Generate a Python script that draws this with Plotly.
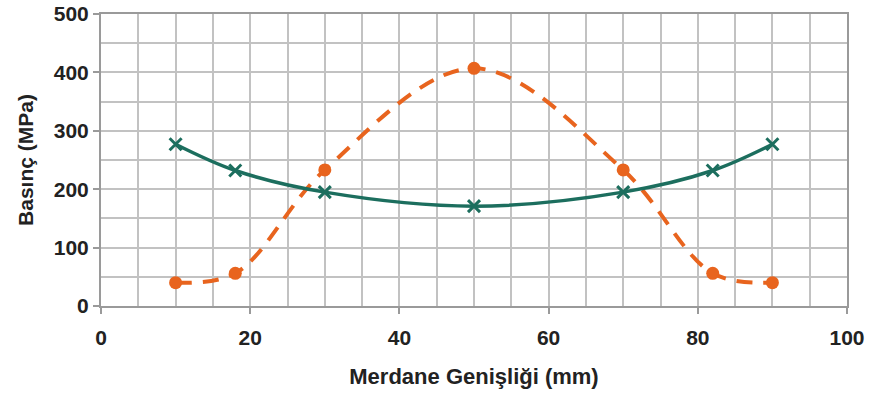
import plotly.graph_objects as go

x_green = [10, 18, 30, 50, 70, 82, 90]
y_green = [277, 232, 195, 171, 195, 232, 277]
x_orange = [10, 18, 30, 50, 70, 82, 90]
y_orange = [40, 56, 233, 407, 233, 56, 40]

x_ticks = [0, 20, 40, 60, 80, 100]
y_ticks = [0, 100, 200, 300, 400, 500]

teal = "#1C6E5E"
orange = "#E8641E"

fig = go.Figure()
fig.add_trace(go.Scatter(
    x=x_orange, y=y_orange, mode="lines+markers",
    line=dict(color=orange, width=4, dash="16px,11px", shape="spline", smoothing=1.0),
    marker=dict(symbol="circle", size=13, color=orange),
    showlegend=False))
fig.add_trace(go.Scatter(
    x=x_green, y=y_green, mode="lines+markers",
    line=dict(color=teal, width=3.5, shape="spline", smoothing=1.0),
    marker=dict(symbol="x-thin", size=12, line=dict(color=teal, width=3)),
    showlegend=False))

fig.update_layout(
    width=875, height=394,
    margin=dict(l=101, r=28, t=14, b=88, autoexpand=False),
    paper_bgcolor="white", plot_bgcolor="white",
    font=dict(family="Liberation Sans, Arial, sans-serif", color="#222222"),
)
fig.update_xaxes(
    range=[0, 100], tickvals=x_ticks, ticktext=[str(v) for v in x_ticks],
    tickfont=dict(size=21, family="Liberation Sans, Arial", weight="bold"),
    showgrid=True, gridcolor="#C2C2C2", gridwidth=1.5,
    minor=dict(dtick=5, showgrid=True, gridcolor="#C2C2C2", gridwidth=1.5),
    showline=True, linecolor="#9A9A9A", linewidth=2, mirror=True,
    ticks="outside", ticklen=6, tickcolor="#9A9A9A", tickwidth=2,
    ticklabelstandoff=6,
    zeroline=False, automargin=False,
    title=dict(text="Merdane Genişliği (mm)", font=dict(size=22, weight="bold", color="#222222"), standoff=20),
)
fig.update_yaxes(
    range=[0, 500], tickvals=y_ticks, ticktext=[str(v) for v in y_ticks],
    tickfont=dict(size=21, family="Liberation Sans, Arial", weight="bold"),
    showgrid=True, gridcolor="#C2C2C2", gridwidth=1.5,
    minor=dict(dtick=50, showgrid=True, gridcolor="#C2C2C2", gridwidth=1.5),
    showline=True, linecolor="#9A9A9A", linewidth=2, mirror=True,
    ticks="outside", ticklen=6, tickcolor="#9A9A9A", tickwidth=2,
    zeroline=False, automargin=False,
    title=dict(text="Basınç (MPa)", font=dict(size=21, weight="bold", color="#222222"), standoff=14),
)

fig.write_html("out.html", config={"displayModeBar": False},
               post_script="document.body.style.margin='0';")
